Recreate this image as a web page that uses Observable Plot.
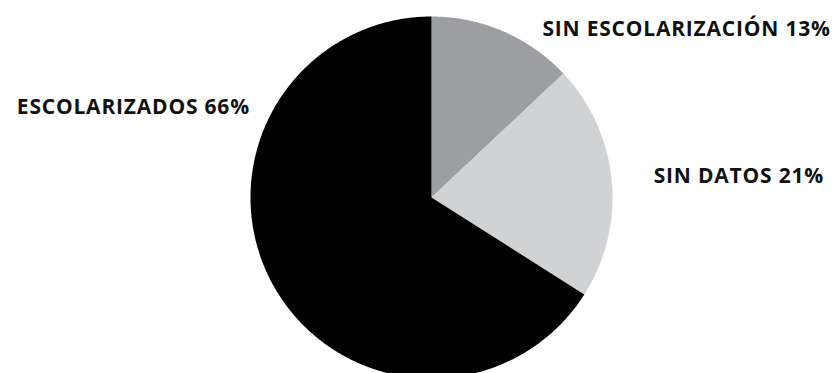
<!DOCTYPE html>
<html>
<head>
<meta charset="utf-8">
<script src="https://cdn.jsdelivr.net/npm/d3@7"></script>
<script src="https://cdn.jsdelivr.net/npm/@observablehq/plot@0.6"></script>
<style>
  html, body { margin: 0; padding: 0; background: #fff; }
  #chart { width: 835px; height: 373px; overflow: hidden; }
  #chart svg text { letter-spacing: 0.8px; }
</style>
</head>
<body>
<div id="chart"></div>
<script>
// Data
const categories = ["SIN ESCOLARIZACIÓN", "SIN DATOS", "ESCOLARIZADOS"];
const shares = [13, 21, 66];
const labels = ["SIN ESCOLARIZACIÓN 13%", "SIN DATOS 21%", "ESCOLARIZADOS 66%"];

// Style / layout (not data)
const colors = ["#9d9ea2", "#d1d2d4", "#000000"];
const labelLayout = [
  {anchor: "start", dx: 39, dy: 5},
  {anchor: "start", dx: 42, dy: 3},
  {anchor: "end", dx: -23, dy: -171}
];
const cx = 431, cy = 197, r = 181;

const arcs = d3.pie().sort(null).value(d => d)(shares);

// polygon outline for each slice in unit coordinates (x = sin, y = cos, clockwise from top)
const slicePoints = [];
arcs.forEach((a, i) => {
  const name = categories[i];
  slicePoints.push({name, x: 0, y: 0});
  const n = Math.max(8, Math.ceil((a.endAngle - a.startAngle) / 0.01));
  for (let k = 0; k <= n; k++) {
    const t = a.startAngle + (a.endAngle - a.startAngle) * k / n;
    slicePoints.push({name, x: Math.sin(t), y: Math.cos(t)});
  }
  slicePoints.push({name, x: 0, y: 0});
});

const labelData = arcs.map((a, i) => {
  const m = (a.startAngle + a.endAngle) / 2;
  return {label: labels[i], x: Math.sin(m), y: Math.cos(m), ...labelLayout[i]};
});

const plot = Plot.plot({
  width: 835,
  height: 373,
  style: {background: "#fff", overflow: "hidden"},
  x: {domain: [-1, 1], range: [cx - r, cx + r], axis: null},
  y: {domain: [-1, 1], range: [cy + r, cy - r], axis: null},
  color: {domain: categories, range: colors},
  marks: [
    Plot.line(slicePoints, {x: "x", y: "y", z: "name", fill: "name", stroke: "none", curve: "linear"}),
    ...labelData.map(d => Plot.text([d], {
      x: "x", y: "y", text: "label",
      textAnchor: d.anchor, lineAnchor: "bottom",
      dx: d.dx, dy: d.dy,
      fontFamily: "Open Sans", fontWeight: 700, fontSize: 21,
      fill: "#111"
    }))
  ]
});
document.getElementById("chart").appendChild(plot);
</script>
</body>
</html>
